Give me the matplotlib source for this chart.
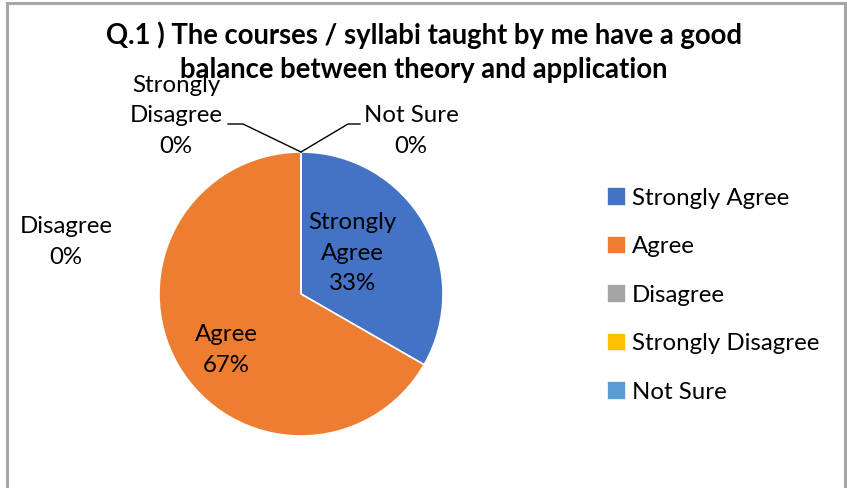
import matplotlib.pyplot as plt
from matplotlib.patches import Rectangle

categories = ['Strongly Agree', 'Agree', 'Disagree', 'Strongly Disagree', 'Not Sure']
shares = [33.3, 66.7, 0, 0, 0]
pct_labels = ['33%', '67%', '0%', '0%', '0%']
colors = ['#4472C4', '#ED7D31', '#A5A5A5', '#FFC000', '#5B9BD5']

plt.rcParams['font.family'] = ['Lato', 'DejaVu Sans']

W, H = 847, 488
fig = plt.figure(figsize=(W / 100, H / 100), dpi=100)

# gray chart frame
fig.patches.append(Rectangle((7 / W, -0.01), (845 - 7) / W, (H - 2.5) / H + 0.01,
                             transform=fig.transFigure, fill=False,
                             edgecolor='#A6A6A6', linewidth=2.2))

# pie centre (301, 294) px, radius 142 px
cx, cy, r = 301, 294, 142
ax = fig.add_axes([(cx - r) / W, (H - cy - r) / H, 2 * r / W, 2 * r / H])
wedges, _ = ax.pie(shares, colors=colors, startangle=90, counterclock=False,
                   wedgeprops=dict(edgecolor='white', linewidth=1.2))
ax.set_xlim(-1, 1)
ax.set_ylim(-1, 1)
ax.axis('off')


def px(x, y):
    return x / W, 1 - y / H


fs = 17.3
ls = 1.55
# inside labels
fig.text(*px(352, 253), f'{categories[0].replace(" ", chr(10))}\n{pct_labels[0]}',
         ha='center', va='center', fontsize=fs, linespacing=ls)
fig.text(*px(226, 350), f'{categories[1]}\n{pct_labels[1]}',
         ha='center', va='center', fontsize=fs, linespacing=ls)
# outside labels for zero slices
fig.text(*px(66, 242), f'{categories[2]}\n{pct_labels[2]}',
         ha='center', va='center', fontsize=fs, linespacing=ls)
fig.text(*px(176, 116), 'Strongly\nDisagree\n' + pct_labels[3],
         ha='center', va='center', fontsize=fs, linespacing=ls)
fig.text(*px(411, 131), f'{categories[4]}\n{pct_labels[4]}',
         ha='center', va='center', fontsize=fs, linespacing=ls)

# leader lines
for xs, ys in [([228, 243, 301], [124, 124, 152]), ([360, 348, 301], [124, 124, 152])]:
    fig.add_artist(plt.Line2D([x / W for x in xs], [1 - y / H for y in ys],
                              transform=fig.transFigure, color='black', linewidth=1))

fig.text(*px(424, 52), 'Q.1 ) The courses / syllabi taught by me have a good\n'
         'balance between theory and application',
         ha='center', va='center', fontsize=19.8, fontweight='bold', linespacing=1.38)

fig.legend(wedges, categories, loc='center left', bbox_to_anchor=(585 / W, 1 - 295 / H),
           frameon=False, fontsize=fs, handlelength=0.8, handleheight=0.8,
           handletextpad=0.25, labelspacing=1.12)

fig.savefig('out.png', dpi=100)
